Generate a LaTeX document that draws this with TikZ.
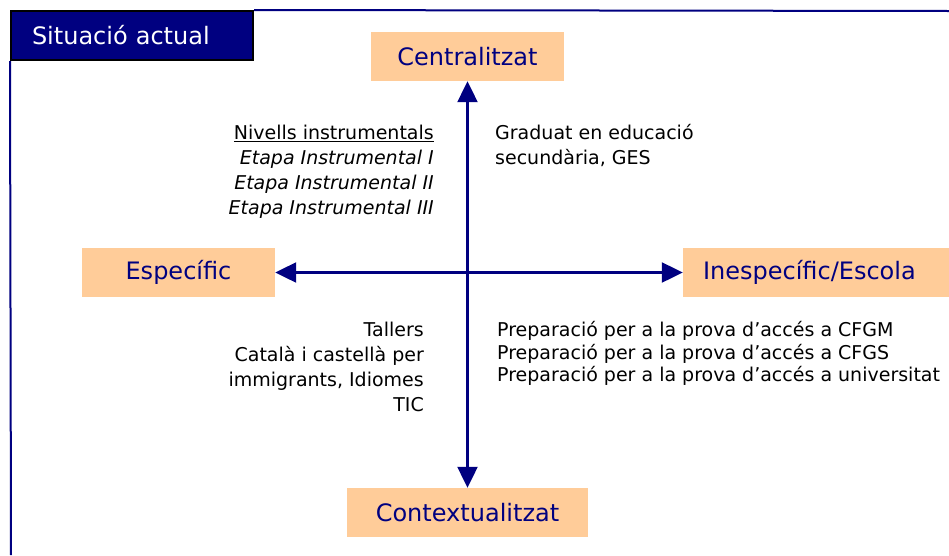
\documentclass[tikz,border=0pt]{standalone}
\usepackage{fontspec}
\setmainfont{DejaVu Sans}
\usetikzlibrary{arrows.meta,positioning}
\definecolor{navy}{RGB}{0,0,128}
\definecolor{peach}{RGB}{255,204,153}

\begin{document}
\begin{tikzpicture}[x=1pt,y=-1pt,
    pole/.style={fill=peach,text=navy,minimum height=49pt,inner sep=0pt,font=\fontsize{24}{28}\selectfont},
    axis/.style={navy,line width=2.2pt,{Triangle[length=21pt,width=20pt]}-{Triangle[length=21pt,width=20pt]}},
    frame/.style={navy,line width=2pt},
    txt/.style={inner sep=0pt,font=\fontsize{19}{25}\selectfont}]
    \useasboundingbox (0,0) rectangle (949,555);
    \node[draw=black,line width=2pt,fill=navy,text=white,anchor=north west,minimum width=242pt,minimum height=49pt,
          inner xsep=21pt,text width=200pt,align=left,font=\fontsize{24}{28}\selectfont] (sit) at (10,10) {Situació actual};
    \draw[frame] (sit.north east) -- (949,11);
    \draw[frame] (sit.south west) -- (11,555);
    \node[pole,minimum width=193pt] (cent) at (467.5,56.5)  {Centralitzat};
    \node[pole,minimum width=241pt] (cont) at (467.5,512.5) {Contextualitzat};
    \node[pole,minimum width=193pt] (espe) at (178.5,272.5) {Específic};
    \node[pole,inner xsep=20pt,text width=226pt,align=left] (ines) at (816,272.5) {Inespecífic/Escola};
    \draw[axis] (cent) -- (cont);
    \draw[axis] (espe) -- (ines);
    \node[txt,anchor=north east,align=right] (niv) at (434,124.5)
        {\underline{Nivells instrumentals}\\ \textit{Etapa Instrumental I}\\ \textit{Etapa Instrumental II}\\ \textit{Etapa Instrumental III}};
    \node[txt,anchor=north west,align=left] (ges) at (495,124.5) {Graduat en educació\\ secundària, GES};
    \node[txt,anchor=north east,align=right] (tall) at (424,321.5) {Tallers\\ Català i castellà per\\ immigrants, Idiomes\\ TIC};
    \node[txt,anchor=north west,align=left,font=\fontsize{19}{22.5}\selectfont] (prep) at (497,321.5)
        {Preparació per a la prova d’accés a CFGM\\ Preparació per a la prova d’accés a CFGS\\ Preparació per a la prova d’accés a universitat};
\end{tikzpicture}
\end{document}
